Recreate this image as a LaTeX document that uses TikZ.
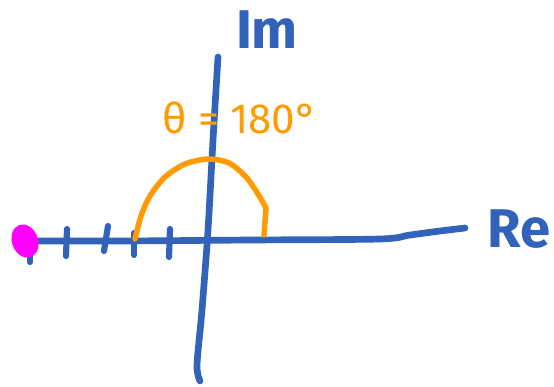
\documentclass[tikz,border=0pt]{standalone}
\usepackage{fontspec}
\setmainfont{Fira Sans}
\usepackage{xcolor}
\usetikzlibrary{calc,positioning}
\definecolor{penblue}{HTML}{3063B9}
\definecolor{penorange}{HTML}{FF9A00}
\definecolor{penmagenta}{HTML}{FF00FF}
\tikzset{
  axispen/.style={line width=3.8pt,penblue,line cap=round,line join=round},
  tickpen/.style={line width=3.5pt,penblue,line cap=round},
  arcpen/.style={line width=3.1pt,penorange,line cap=round,line join=round},
  axislabel/.style={text=penblue,font=\fontsize{31}{31}\selectfont\bfseries,inner sep=0pt},
  anglelabel/.style={text=penorange,font=\fontsize{24}{24}\selectfont,inner sep=0pt}
}

\begin{document}
\begin{tikzpicture}[x=0.02cm, y=-0.02cm]
  \useasboundingbox (0,0) rectangle (554,386);
  % axes
  \draw[axispen] plot[smooth] coordinates {(15,241) (120,241) (250,240) (380,239) (410,235) (440,231) (465,228)};
  \draw[axispen] plot[smooth] coordinates {(218,57) (213,140) (208,230) (202,310) (197,365) (200,381)};
  % ticks
  \draw[tickpen] (30,247) -- (30,262);
  \draw[tickpen] (67,229) -- (66,256);
  \draw[tickpen] (108,226) -- (104,251);
  \draw[tickpen] (134,233) -- (134,255);
  \draw[tickpen] (170,229) -- (169,257);
  % angle arc
  \draw[arcpen] plot[smooth] coordinates {(135,239) (141,216) (150,196) (165,177) (185,164) (208,159) (229,163) (246,177) (258,194) (266,208)} -- (264,235);
  % point
  \fill[penmagenta,rotate around={20:(25,241)}] (25,241) ellipse (13 and 17);
  % labels
  \node[axislabel] (imlabel) at (267,30) {Im};
  \node[axislabel] (relabel) at (519,229) {Re};
  \node[anglelabel] (angle) at (240,118) {θ = 180°};
\end{tikzpicture}
\end{document}
